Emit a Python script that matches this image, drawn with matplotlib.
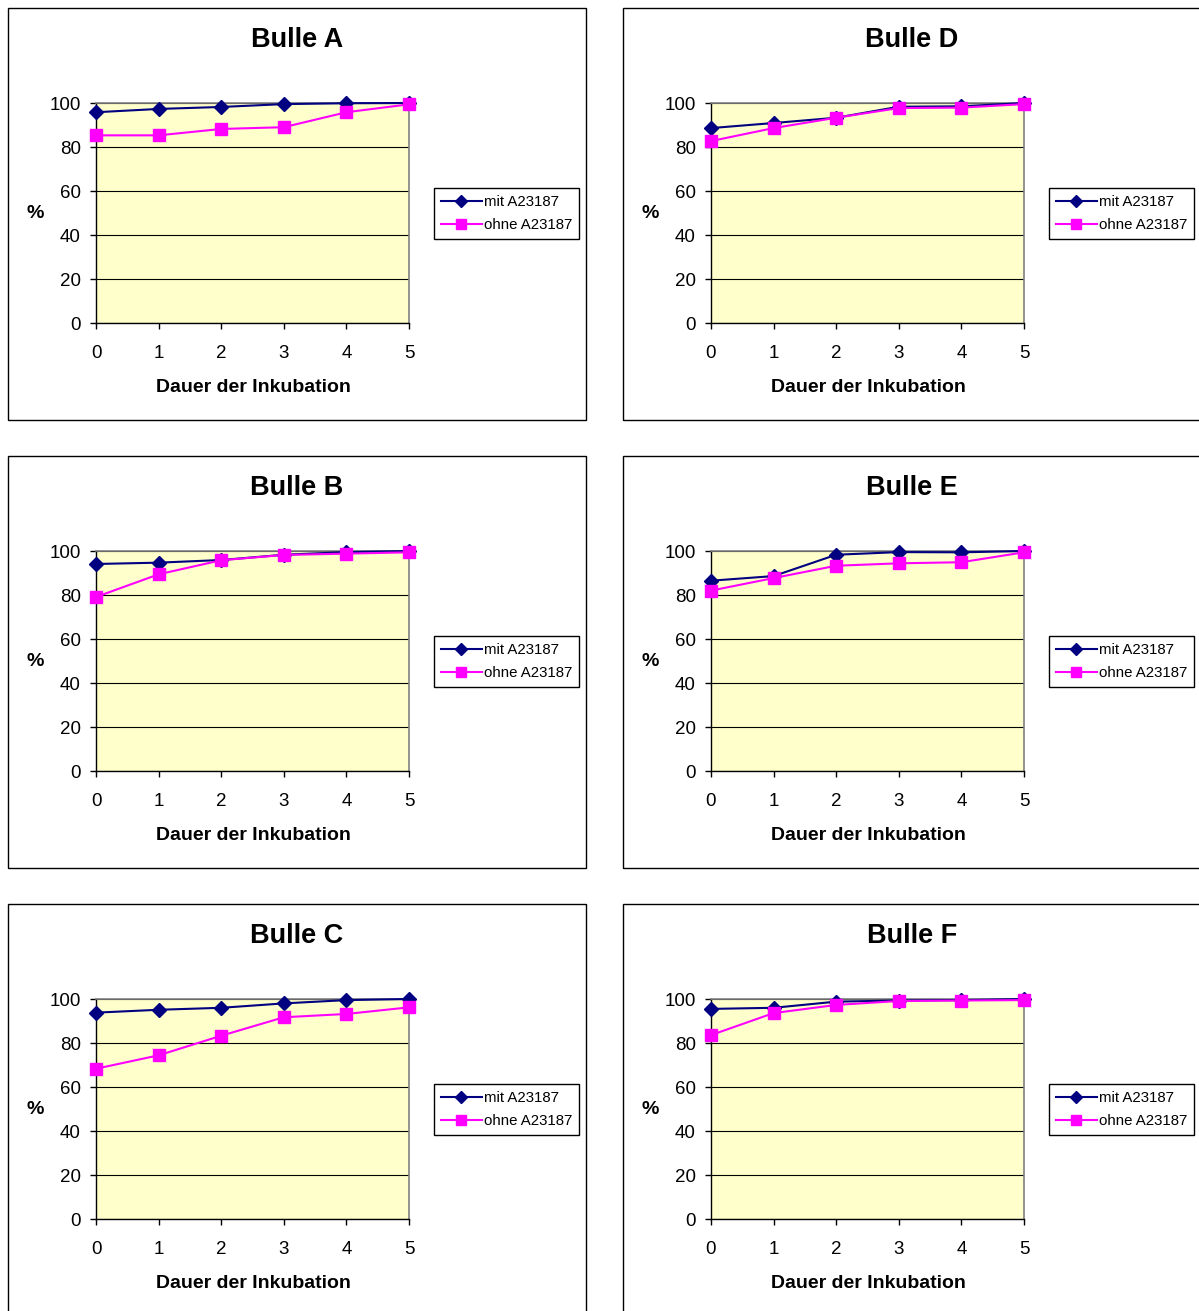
import matplotlib
matplotlib.use('Agg')
import matplotlib.pyplot as plt
from matplotlib.patches import Rectangle

plt.rcParams['font.family'] = ['Liberation Sans', 'DejaVu Sans']

days = [0, 1, 2, 3, 4, 5]
yticks = [0, 20, 40, 60, 80, 100]
titles = ['Bulle A', 'Bulle B', 'Bulle C', 'Bulle D', 'Bulle E', 'Bulle F']
series_names = ['mit A23187', 'ohne A23187']
xlabel = 'Dauer der Inkubation'
ylabel = '%'

mit_A = [95.8, 97.3, 98.2, 99.5, 99.9, 100]
ohne_A = [85.3, 85.3, 88.2, 89.0, 95.8, 99.4]
mit_B = [94.1, 94.7, 95.9, 98.3, 99.5, 100]
ohne_B = [79.1, 89.4, 95.8, 98.2, 98.8, 99.4]
mit_C = [93.8, 95.1, 96.0, 98.0, 99.5, 100]
ohne_C = [68.3, 74.4, 83.3, 91.7, 93.2, 96.2]
mit_D = [88.6, 90.9, 93.3, 98.3, 98.5, 100]
ohne_D = [82.7, 88.6, 93.3, 97.7, 97.9, 99.5]
mit_E = [86.5, 88.6, 98.3, 99.5, 99.4, 100]
ohne_E = [82.0, 87.7, 93.3, 94.4, 94.9, 99.4]
mit_F = [95.5, 96.0, 98.8, 99.3, 99.5, 100]
ohne_F = [83.6, 93.6, 97.3, 99.1, 99.3, 99.5]

W, H = 1199, 1311
fig = plt.figure(figsize=(W / 100, H / 100), dpi=100)
fig.patch.set_facecolor('white')


def fx(px):
    return px / W


def fy(py):
    return 1 - py / H


panels = [
    (titles[0], mit_A, ohne_A, 0, 0),
    (titles[1], mit_B, ohne_B, 0, 1),
    (titles[2], mit_C, ohne_C, 0, 2),
    (titles[3], mit_D, ohne_D, 1, 0),
    (titles[4], mit_E, ohne_E, 1, 1),
    (titles[5], mit_F, ohne_F, 1, 2),
]

for title, mit, ohne, col, row in panels:
    cx = 615 * col
    ry = 448 * row
    # chart frame
    fl, fr, ft, fb = 8 + cx, 586 + cx, 8 + ry, 420 + ry
    fig.patches.append(Rectangle((fx(fl), fy(fb)), fx(fr) - fx(fl), fy(ft) - fy(fb),
                                 transform=fig.transFigure, fill=False,
                                 edgecolor='#000000', linewidth=1.0, zorder=0))
    # plot area
    l, r, t, b = 96 + cx, 409 + cx, 103 + ry, 323 + ry
    ax = fig.add_axes([fx(l), fy(b), fx(r) - fx(l), fy(t) - fy(b)])
    ax.set_facecolor('#FFFFCC')
    ax.set_xlim(0, 5)
    ax.set_ylim(0, 100)
    ax.set_yticks(yticks)
    ax.set_xticks(days)
    ax.tick_params(axis='both', direction='out', length=4, width=1,
                   labelsize=13.5, color='black')
    ax.tick_params(axis='y', pad=7)
    ax.tick_params(axis='x', pad=12)
    ax.yaxis.grid(True, color='black', linewidth=0.8)
    ax.set_axisbelow(True)
    for s in ['left', 'bottom']:
        ax.spines[s].set_color('black')
        ax.spines[s].set_linewidth(1)
    for s in ['top', 'right']:
        ax.spines[s].set_color('#808080')
        ax.spines[s].set_linewidth(1.2)
    h1, = ax.plot(days, mit, color='#000080', marker='D', markersize=7,
                  linewidth=1.5, clip_on=False, zorder=3, label=series_names[0])
    h2, = ax.plot(days, ohne, color='#FF00FF', marker='s', markersize=8.5,
                  linewidth=1.5, clip_on=False, zorder=4, label=series_names[1])
    fig.text(fx(297 + cx), fy(40 + ry), title, ha='center', va='center',
             fontsize=19.5, fontweight='bold')
    fig.text(fx(35 + cx), fy(214 + ry), ylabel, ha='center', va='center',
             fontsize=14, fontweight='bold')
    fig.text(fx(253 + cx), fy(388 + ry), xlabel, ha='center', va='center',
             fontsize=14, fontweight='bold')
    leg = fig.legend(handles=[h1, h2], loc='upper left',
                     bbox_to_anchor=(fx(434 + cx), fy(188 + ry)),
                     bbox_transform=fig.transFigure, borderaxespad=0,
                     fontsize=10.8, frameon=True, fancybox=False, framealpha=1,
                     edgecolor='black', handlelength=2.75, handletextpad=0.15,
                     borderpad=0.45, labelspacing=0.62, markerscale=0.85)
    leg.get_frame().set_linewidth(1)

fig.savefig('out.png', dpi=100, facecolor='white')
